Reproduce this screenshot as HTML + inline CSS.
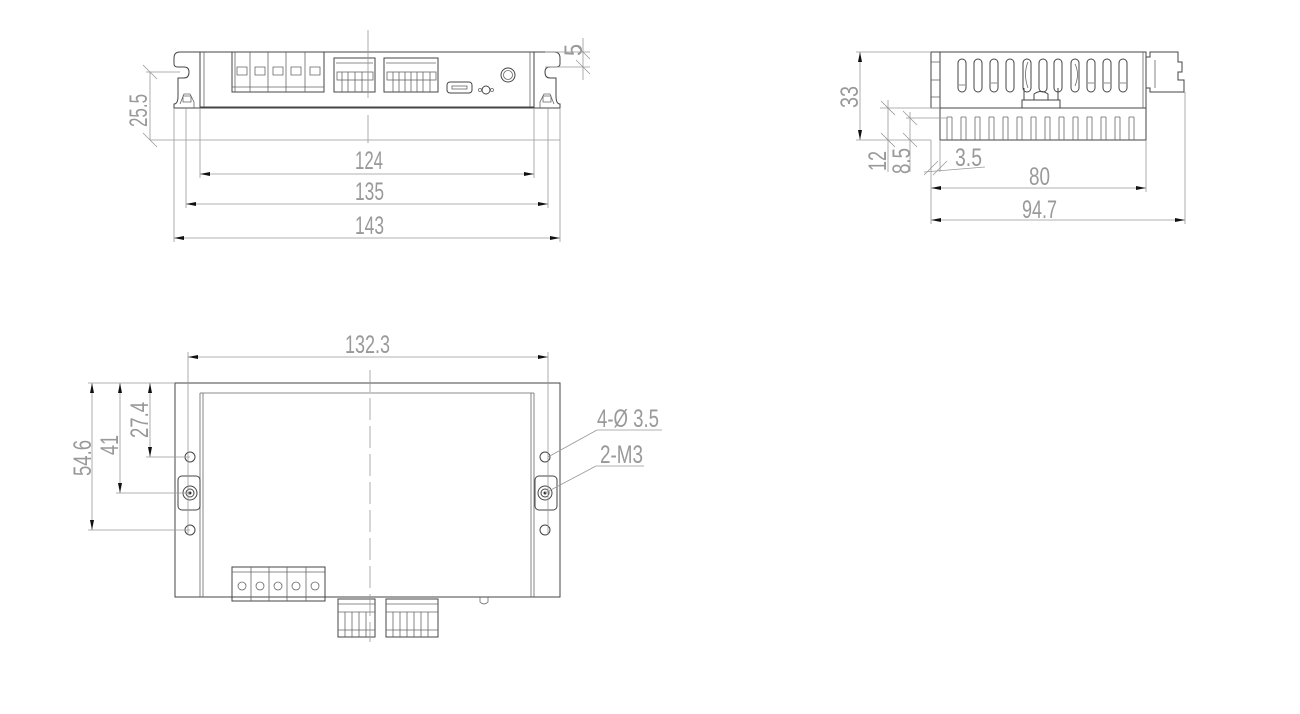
<!DOCTYPE html>
<html><head><meta charset="utf-8"><style>
html,body{margin:0;padding:0;background:#fff;}
svg{display:block}
text{font-family:"Liberation Sans",sans-serif;fill:#999;font-size:25px;}
.o{stroke:#444;stroke-width:1;fill:none}
.l{stroke:#666;stroke-width:0.8;fill:none}
.d{stroke:#999;stroke-width:0.8;fill:none}
</style></head><body>
<svg width="1300" height="714" viewBox="0 0 1300 714" xmlns="http://www.w3.org/2000/svg">
<defs>
<marker id="ar" viewBox="0 0 10 4" refX="10" refY="2" markerWidth="10" markerHeight="4" markerUnits="userSpaceOnUse" orient="auto-start-reverse"><path d="M0,0 L10,2 L0,4z" fill="#111"/></marker>
</defs>

<!-- ============ TOP VIEW ============ -->
<path class="o" d="M200,52 H180 Q174,52 174,58 V64 Q174,67 178,67 H184 Q189,67 189,72 Q189,78 184,78 H178 V96 Q178,104 174,104 V108 H560 V104 Q556,104 556,96 V78 H550 Q545,78 545,72 Q545,67 550,67 H556 Q560,67 560,64 V58 Q560,52 554,52 H534"/>
<rect class="o" x="200" y="52" width="334" height="55"/>
<line class="l" x1="204" y1="52" x2="204" y2="107"/><line class="l" x1="530" y1="52" x2="530" y2="107"/>
<path class="l" d="M180,104 l4,-10 h6 l4,8 v6 M183,96 h8 v6 h-8z"/>
<path class="l" d="M554,104 l-4,-10 h-6 l-4,8 v6 M543,96 h8 v6 h-8z"/>
<rect class="o" x="232" y="52" width="92" height="40"/>
<g class="l">
<line x1="250" y1="52" x2="250" y2="92"/><line x1="268" y1="52" x2="268" y2="92"/><line x1="286" y1="52" x2="286" y2="92"/><line x1="305" y1="52" x2="305" y2="92"/>
<path d="M237,75 v-8 h10 v8z M255,75 v-8 h10 v8z M273,75 v-8 h10 v8z M291,75 v-8 h10 v8z M310,75 v-8 h10 v8z"/>
<line x1="232" y1="87" x2="324" y2="87"/><line x1="235" y1="52" x2="235" y2="92"/>
</g>
<rect class="o" x="334" y="58" width="41" height="34"/>
<g class="l"><rect x="337" y="72" width="36" height="8"/>
<line x1="342" y1="72" x2="342" y2="92"/><line x1="348" y1="72" x2="348" y2="92"/><line x1="355" y1="72" x2="355" y2="92"/><line x1="362" y1="72" x2="362" y2="92"/><line x1="368" y1="72" x2="368" y2="92"/>
<line x1="336" y1="63" x2="373" y2="63"/></g>
<rect class="o" x="384" y="58" width="54" height="34"/>
<g class="l"><rect x="387" y="72" width="49" height="8"/>
<line x1="393" y1="72" x2="393" y2="92"/><line x1="399" y1="72" x2="399" y2="92"/><line x1="405" y1="72" x2="405" y2="92"/><line x1="411" y1="72" x2="411" y2="92"/><line x1="417" y1="72" x2="417" y2="92"/><line x1="423" y1="72" x2="423" y2="92"/><line x1="430" y1="72" x2="430" y2="92"/>
<line x1="386" y1="63" x2="436" y2="63"/></g>
<rect class="o" x="447" y="82" width="25" height="11" rx="3"/>
<rect class="l" x="452" y="86" width="15" height="3"/>
<circle class="o" cx="486" cy="90" r="4"/><circle class="l" cx="480" cy="90" r="1.5"/><circle class="l" cx="492" cy="90" r="1.5"/>
<circle class="o" cx="508" cy="75" r="7"/><circle class="l" cx="508" cy="75" r="4.5"/>
<line class="d" x1="368" y1="30" x2="368" y2="98"/><line class="d" x1="368" y1="115" x2="368" y2="143"/>
<g class="d">
<line x1="200" y1="108" x2="200" y2="178"/><line x1="534" y1="108" x2="534" y2="178"/>
<line x1="186" y1="108" x2="186" y2="208"/><line x1="548" y1="108" x2="548" y2="208"/>
<line x1="174" y1="108" x2="174" y2="242"/><line x1="560" y1="108" x2="560" y2="242"/>
<line x1="150" y1="140" x2="560" y2="140"/>
<line x1="146" y1="72" x2="180" y2="72"/>
<line x1="545" y1="67" x2="590" y2="67"/><line x1="545" y1="52" x2="590" y2="52"/>
<line x1="583" y1="38" x2="583" y2="80"/>
<line x1="143" y1="65" x2="157" y2="79"/><line x1="143" y1="133" x2="157" y2="147"/>
<line x1="576" y1="45" x2="590" y2="59"/><line x1="576" y1="60" x2="590" y2="74"/>
</g>
<line class="d" x1="150" y1="72" x2="150" y2="140"/>
<line class="d" x1="200" y1="174" x2="534" y2="174" marker-start="url(#ar)" marker-end="url(#ar)"/>
<line class="d" x1="186" y1="204" x2="548" y2="204" marker-start="url(#ar)" marker-end="url(#ar)"/>
<line class="d" x1="174" y1="238" x2="560" y2="238" marker-start="url(#ar)" marker-end="url(#ar)"/>
<text x="355" y="169" textLength="28" lengthAdjust="spacingAndGlyphs">124</text>
<text x="355" y="200" textLength="29" lengthAdjust="spacingAndGlyphs">135</text>
<text x="355" y="234" textLength="29" lengthAdjust="spacingAndGlyphs">143</text>
<text transform="translate(147,127) rotate(-90)" textLength="33" lengthAdjust="spacingAndGlyphs">25.5</text>
<text transform="translate(582,56) rotate(-90)" textLength="12" lengthAdjust="spacingAndGlyphs">5</text>

<!-- ============ SIDE VIEW ============ -->
<rect class="o" x="940" y="52" width="206" height="56"/>
<path class="o" d="M931,52 H940 M931,52 V108 M931,108 H940"/>
<line class="l" x1="931" y1="62" x2="940" y2="62"/><line class="l" x1="931" y1="80" x2="940" y2="80"/><line class="l" x1="931" y1="97" x2="940" y2="97"/>
<line class="l" x1="1143" y1="52" x2="1143" y2="108"/>
<g class="o">
<rect x="958" y="59" width="8" height="33" rx="4"/><rect x="974" y="59" width="8" height="33" rx="4"/><rect x="990" y="59" width="8" height="33" rx="4"/><rect x="1006" y="59" width="8" height="33" rx="4"/><rect x="1023" y="59" width="8" height="33" rx="4"/><rect x="1039" y="59" width="8" height="33" rx="4"/><rect x="1054" y="59" width="8" height="33" rx="4"/><rect x="1071" y="59" width="8" height="33" rx="4"/><rect x="1087" y="59" width="8" height="33" rx="4"/><rect x="1103" y="59" width="8" height="33" rx="4"/><rect x="1119" y="59" width="8" height="33" rx="4"/>
</g>
<g class="l"><path d="M959,85 h6 M991,83 h6 M1088,83 h6 M1104,83 h6 M1120,83 h6 M1028,62 q-5,12 0,26 M1075,64 q5,10 0,22"/></g>
<path class="o" d="M1022,108 v-8 h38 v8 M1024,100 v-12 M1058,100 v-12 M1034,100 v-6 q7,-5 14,0 v6"/>
<path class="o" d="M940,108 V140 H1146 V108"/>
<g class="l">
<path d="M947,117 V140 M952,117 V140 M961,117 V140 M966,117 V140 M975,117 V140 M980,117 V140 M989,117 V140 M994,117 V140 M1003,117 V140 M1008,117 V140 M1017,117 V140 M1022,117 V140 M1031,117 V140 M1036,117 V140 M1045,117 V140 M1050,117 V140 M1059,117 V140 M1064,117 V140 M1073,117 V140 M1078,117 V140 M1087,117 V140 M1092,117 V140 M1101,117 V140 M1106,117 V140 M1115,117 V140 M1120,117 V140 M1129,117 V140 M1134,117 V140"/>
<path d="M947,117 H952 M961,117 H966 M975,117 H980 M989,117 H994 M1003,117 H1008 M1017,117 H1022 M1031,117 H1036 M1045,117 H1050 M1059,117 H1064 M1073,117 H1078 M1087,117 H1092 M1101,117 H1106 M1115,117 H1120 M1129,117 H1134"/>
</g>
<path class="o" d="M1146,57 H1150 V52 H1178 V62 H1182 V72 H1178 V80 H1184 V92 H1150 V88 H1146"/>
<line class="l" x1="1155" y1="60" x2="1155" y2="88"/>
<g class="d">
<line x1="856" y1="52" x2="931" y2="52"/><line x1="856" y1="140" x2="931" y2="140"/>
<line x1="880" y1="108" x2="940" y2="108"/><line x1="906" y1="118" x2="947" y2="118"/>
<line x1="888" y1="100" x2="888" y2="172"/><line x1="910" y1="112" x2="910" y2="172"/>
<line x1="881" y1="101" x2="895" y2="115"/><line x1="881" y1="133" x2="895" y2="147"/>
<line x1="903" y1="111" x2="917" y2="125"/><line x1="903" y1="133" x2="917" y2="147"/>
<line x1="931" y1="140" x2="931" y2="224"/><line x1="940" y1="140" x2="940" y2="172"/>
<line x1="924" y1="172" x2="985" y2="167"/>
<line x1="924" y1="175" x2="938" y2="161"/><line x1="933" y1="175" x2="947" y2="161"/>
<line x1="1146" y1="140" x2="1146" y2="192"/><line x1="1185" y1="92" x2="1185" y2="224"/>
</g>
<line class="d" x1="860" y1="52" x2="860" y2="140" marker-start="url(#ar)" marker-end="url(#ar)"/>
<line class="d" x1="931" y1="188" x2="1146" y2="188" marker-start="url(#ar)" marker-end="url(#ar)"/>
<line class="d" x1="931" y1="220" x2="1185" y2="220" marker-start="url(#ar)" marker-end="url(#ar)"/>
<text transform="translate(858,108) rotate(-90)" textLength="22" lengthAdjust="spacingAndGlyphs">33</text>
<text transform="translate(886,171) rotate(-90)" textLength="20" lengthAdjust="spacingAndGlyphs">12</text>
<text transform="translate(910,174) rotate(-90)" textLength="26" lengthAdjust="spacingAndGlyphs">8.5</text>
<text x="955" y="166" textLength="27" lengthAdjust="spacingAndGlyphs">3.5</text>
<text x="1029" y="185" textLength="21" lengthAdjust="spacingAndGlyphs">80</text>
<text x="1022" y="218" textLength="35" lengthAdjust="spacingAndGlyphs">94.7</text>

<!-- ============ BOTTOM VIEW ============ -->
<rect class="o" x="175" y="383" width="385" height="214"/>
<line class="l" x1="200" y1="393" x2="534" y2="393"/>
<line class="l" x1="200" y1="393" x2="200" y2="597"/><line class="l" x1="203" y1="393" x2="203" y2="597"/>
<line class="l" x1="534" y1="393" x2="534" y2="597"/><line class="l" x1="531" y1="393" x2="531" y2="597"/>
<g class="o">
<circle cx="190" cy="457" r="5"/><circle cx="190" cy="530" r="5"/>
<circle cx="545" cy="457" r="5"/><circle cx="545" cy="530" r="5"/>
<rect x="178" y="476" width="22" height="34" rx="4"/><circle cx="190" cy="493" r="7"/><circle cx="190" cy="493" r="4"/>
<rect x="535" y="476" width="22" height="34" rx="4"/><circle cx="545" cy="493" r="7"/><circle cx="545" cy="493" r="4"/>
</g>
<circle cx="190" cy="493" r="1.5" fill="#333"/><circle cx="545" cy="493" r="1.5" fill="#333"/>
<rect class="o" x="232" y="567" width="93" height="34"/>
<g class="l">
<line x1="251" y1="567" x2="251" y2="601"/><line x1="269" y1="567" x2="269" y2="601"/><line x1="287" y1="567" x2="287" y2="601"/><line x1="306" y1="567" x2="306" y2="601"/>
<circle cx="242" cy="586" r="4"/><circle cx="260" cy="586" r="4"/><circle cx="278" cy="586" r="4"/><circle cx="296" cy="586" r="4"/><circle cx="315" cy="586" r="4"/>
<line x1="232" y1="572" x2="325" y2="572"/>
</g>
<rect class="o" x="338" y="599" width="37" height="38"/>
<g class="l"><line x1="338" y1="604" x2="375" y2="604"/><line x1="338" y1="612" x2="375" y2="612"/><line x1="338" y1="630" x2="375" y2="630"/>
<line x1="345" y1="612" x2="345" y2="637"/><line x1="352" y1="612" x2="352" y2="637"/><line x1="359" y1="612" x2="359" y2="637"/><line x1="366" y1="612" x2="366" y2="637"/></g>
<rect class="o" x="386" y="599" width="52" height="38"/>
<g class="l"><line x1="386" y1="604" x2="438" y2="604"/><line x1="386" y1="612" x2="438" y2="612"/><line x1="386" y1="630" x2="438" y2="630"/>
<line x1="393" y1="612" x2="393" y2="637"/><line x1="400" y1="612" x2="400" y2="637"/><line x1="407" y1="612" x2="407" y2="637"/><line x1="414" y1="612" x2="414" y2="637"/><line x1="421" y1="612" x2="421" y2="637"/><line x1="428" y1="612" x2="428" y2="637"/></g>
<path class="l" d="M480,597 v5 q4,4 8,0 v-5"/>
<line class="d" x1="370" y1="370" x2="370" y2="642" stroke-dasharray="22,6"/>
<g class="d">
<line x1="188" y1="352" x2="188" y2="535"/><line x1="548" y1="352" x2="548" y2="535"/>
<line x1="88" y1="383" x2="175" y2="383"/>
<line x1="146" y1="457" x2="190" y2="457"/><line x1="116" y1="493" x2="190" y2="493"/><line x1="88" y1="530" x2="190" y2="530"/>
<line x1="548" y1="457" x2="597" y2="430"/><line x1="597" y1="430" x2="662" y2="430"/>
<line x1="545" y1="493" x2="596" y2="466"/><line x1="596" y1="466" x2="644" y2="466"/>
</g>
<line class="d" x1="188" y1="357" x2="548" y2="357" marker-start="url(#ar)" marker-end="url(#ar)"/>
<line class="d" x1="92" y1="383" x2="92" y2="530" marker-start="url(#ar)" marker-end="url(#ar)"/>
<line class="d" x1="120" y1="383" x2="120" y2="493" marker-start="url(#ar)" marker-end="url(#ar)"/>
<line class="d" x1="150" y1="383" x2="150" y2="457" marker-start="url(#ar)" marker-end="url(#ar)"/>
<text x="345" y="353" textLength="45" lengthAdjust="spacingAndGlyphs">132.3</text>
<text transform="translate(91,476) rotate(-90)" textLength="36" lengthAdjust="spacingAndGlyphs">54.6</text>
<text transform="translate(118,455) rotate(-90)" textLength="20" lengthAdjust="spacingAndGlyphs">41</text>
<text transform="translate(148,438) rotate(-90)" textLength="36" lengthAdjust="spacingAndGlyphs">27.4</text>
<text x="597" y="427" textLength="62" lengthAdjust="spacingAndGlyphs">4-Ø 3.5</text>
<text x="600" y="463" textLength="43" lengthAdjust="spacingAndGlyphs">2-M3</text>
</svg>
</body></html>
